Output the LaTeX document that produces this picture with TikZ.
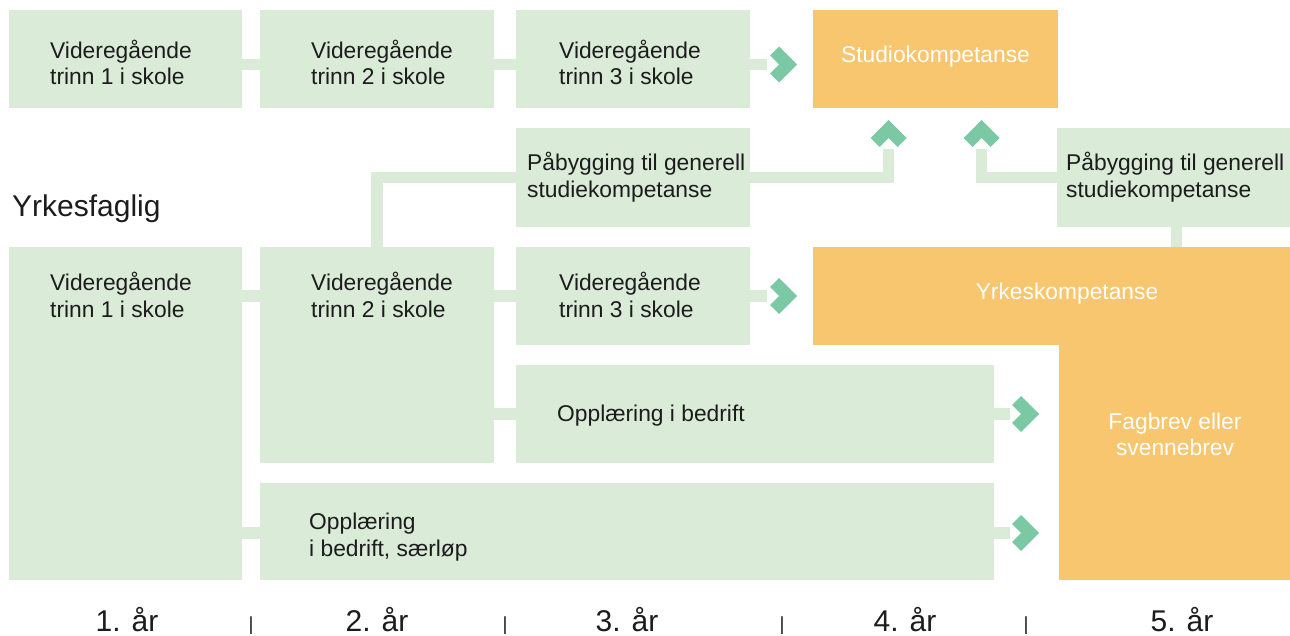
\documentclass[tikz,border=0pt]{standalone}
\usepackage{fontspec}
\setmainfont{Liberation Sans}
\usepackage{xcolor}
\usetikzlibrary{positioning, calc}
\definecolor{boxgreen}{HTML}{DAEBD8}
\definecolor{chevgreen}{HTML}{7AC9A4}
\definecolor{goalorange}{HTML}{F8C66E}
\definecolor{ink}{HTML}{1C1C1C}
\tikzset{
    box/.style={
        rectangle,
        fill=boxgreen,
        anchor=north west,
        inner sep=0pt,
        outer sep=0pt,
    },
    goal/.style={
        box,
        fill=goalorange,
    },
    txt/.style={
        font=\fontsize{22.8}{26.5}\selectfont,
        text=ink,
        inner sep=0pt,
        align=left,
        anchor=base west,
    },
    goaltxt/.style={
        txt,
        text=white,
        align=center,
        anchor=base,
    },
    yeartxt/.style={
        txt,
        font=\fontsize{30}{36}\selectfont,
        anchor=base,
    },
    septxt/.style={
        txt,
        font=\fontsize{19}{22}\selectfont,
        anchor=base,
    },
    conn/.style={
        draw=boxgreen,
        line width=11.5pt,
    },
    chev/.pic={
        \fill[chevgreen] (0,0) -- (-18,-18) -- (-27,-9) -- (-18,0) -- (-27,9) -- (-18,18) -- cycle;
    },
}
\begin{document}
\begin{tikzpicture}[x=1pt, y=-1pt]
    \useasboundingbox (0,0) rectangle (1290,636);

    \node [box, minimum width=233pt, minimum height=98pt] (A1) at (9,10) {};
    \node [box, minimum width=234pt, minimum height=98pt] (A2) at (260,10) {};
    \node [box, minimum width=234pt, minimum height=98pt] (A3) at (516,10) {};
    \node [goal, minimum width=245pt, minimum height=98pt] (S) at (813,10) {};
    \node [box, minimum width=234pt, minimum height=99pt] (P1) at (516,128) {};
    \node [box, minimum width=233pt, minimum height=99pt] (P2) at (1057,128) {};
    \node [box, minimum width=233pt, minimum height=333pt] (B1) at (9,247) {};
    \node [box, minimum width=234pt, minimum height=216pt] (B2) at (260,247) {};
    \node [box, minimum width=234pt, minimum height=98pt] (B3) at (516,247) {};
    \node [goal, minimum width=477pt, minimum height=98pt] (Y) at (813,247) {};
    \node [goal, minimum width=231pt, minimum height=235pt] (F) at (1059,345) {};
    \node [box, minimum width=478pt, minimum height=98pt] (O1) at (516,365) {};
    \node [box, minimum width=734pt, minimum height=97pt] (O2) at (260,483) {};

    \node [txt] (tA1) at (50,85) {Videregående\\trinn 1 i skole};
    \node [txt] (tA2) at (311,85) {Videregående\\trinn 2 i skole};
    \node [txt] (tA3) at (559,85) {Videregående\\trinn 3 i skole};
    \node [goaltxt] (tS) at (935.5,63) {Studiokompetanse};
    \node [txt] (tP1) at (527,197.5) {Påbygging til generell\\studiekompetanse};
    \node [txt] (tP2) at (1066,197.5) {Påbygging til generell\\studiekompetanse};
    \node [txt, font=\fontsize{30}{36}\selectfont] (tYf) at (12,217) {Yrkesfaglig};
    \node [txt] (tB1) at (50,317) {Videregående\\trinn 1 i skole};
    \node [txt] (tB2) at (311,317) {Videregående\\trinn 2 i skole};
    \node [txt] (tB3) at (559,317) {Videregående\\trinn 3 i skole};
    \node [goaltxt] (tY) at (1067,300) {Yrkeskompetanse};
    \node [goaltxt] (tF) at (1175,455.5) {Fagbrev eller\\svennebrev};
    \node [txt] (tO1) at (557,421) {Opplæring i bedrift};
    \node [txt] (tO2) at (309,556) {Opplæring\\i bedrift, særløp};

    \coordinate (eA3) at (767,64.5);
    \coordinate (eB3) at (767,296);
    \coordinate (eO1) at (1010,414);
    \coordinate (eO2) at (1010,533);
    \coordinate (up1) at (888.5,149);
    \coordinate (up2) at (981.5,149);

    \draw[conn] ([yshift=-5.5pt]A1.east) -- ([yshift=-5.5pt]A2.west);
    \draw[conn] ([yshift=-5.5pt]A2.east) -- ([yshift=-5.5pt]A3.west);
    \draw[conn] (A3.east |- eA3) -- (eA3);
    \draw[conn] (B1.east |- B3.west) -- (B2.west |- B3.west);
    \draw[conn] (B2.east |- B3.west) -- (B3.west);
    \draw[conn] (B3.east) -- (eB3);
    \draw[conn] (B2.north) |- (P1.west);
    \draw[conn] (P1.east) -| (up1);
    \draw[conn] (P2.west) -| (up2);
    \draw[conn] ([xshift=3pt]P2.south) -- ([xshift=3pt]P2.south |- Y.north);
    \draw[conn] (B2.east |- O1.west) -- (O1.west);
    \draw[conn] (O1.east) -- (eO1);
    \draw[conn] (B1.east |- eO2) -- (O2.west |- eO2);
    \draw[conn] (O2.east |- eO2) -- (eO2);

    \pic at ([xshift=30pt]eA3) {chev};
    \pic at ([xshift=30pt]eB3) {chev};
    \pic at ([xshift=29pt]eO1) {chev};
    \pic at ([xshift=29pt]eO2) {chev};
    \pic[rotate=90] at ([yshift=29pt]up1) {chev};
    \pic[rotate=90] at ([yshift=29pt]up2) {chev};

    \node [yeartxt] (y1) at (127,631) {1. år};
    \node [septxt] (s1) at (251,630) {|};
    \node [yeartxt] (y2) at (377,631) {2. år};
    \node [septxt] (s2) at (505,630) {|};
    \node [yeartxt] (y3) at (627,631) {3. år};
    \node [septxt] (s3) at (782,630) {|};
    \node [yeartxt] (y4) at (905,631) {4. år};
    \node [septxt] (s4) at (1026,630) {|};
    \node [yeartxt] (y5) at (1182,631) {5. år};
\end{tikzpicture}
\end{document}
